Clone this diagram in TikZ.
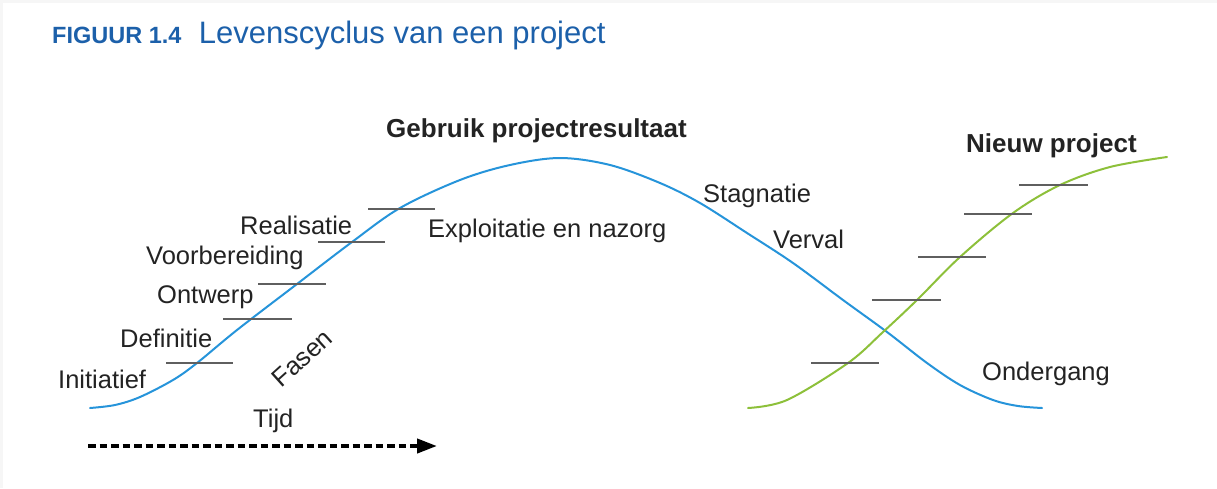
\documentclass[tikz,border=0pt]{standalone}
\usepackage{fontspec}
\setmainfont{Liberation Sans}
\usepackage{tikz}
\usetikzlibrary{arrows.meta, positioning}
\definecolor{titelblauw}{RGB}{28,96,170}
\definecolor{curveblauw}{RGB}{38,148,218}
\definecolor{curvegroen}{RGB}{141,192,58}
\definecolor{tekstgrijs}{RGB}{35,35,35}
\definecolor{streepgrijs}{RGB}{95,95,95}

\begin{document}
\begin{tikzpicture}[x=1pt, y=-1pt,
    label/.style={anchor=base west, inner sep=0pt, text=tekstgrijs, font=\fontsize{25.5}{30}\selectfont},
    kop/.style={label, font=\fontsize{26}{31}\selectfont\bfseries},
    titel/.style={anchor=base west, inner sep=0pt, text=titelblauw},
    fase/.style={draw=streepgrijs, line width=1.2pt},
    curve/.style={line width=2pt, line cap=round},
    tijdpijl/.style={line width=4pt, dash pattern=on 7.5pt off 4pt, -{Triangle[length=20pt, width=14pt]}}
]
    \useasboundingbox (0,0) rectangle (1217,488);
    \fill[gray!7] (0,0) rectangle (1217,3);
    \fill[gray!7] (0,0) rectangle (3,488);

    % titel
    \node[titel, font=\fontsize{23.5}{28}\selectfont\bfseries] (fig) at (52,43) {FIGUUR 1.4};
    \node[titel, font=\fontsize{31}{36}\selectfont] (titeltekst) at ([xshift=17pt]fig.base east) {Levenscyclus van een project};

    % levenscyclus
    \draw[curve, curveblauw] plot[smooth, tension=0.55] coordinates {
        (90,408) (115,405) (140,397) (173,380) (197,363) (237,330) (297,284)
        (352,242) (400,208) (460,180) (510,165) (560,158) (610,165) (660,183)
        (700,203) (747,233) (793,263) (843,300) (887,332) (927,363) (960,385)
        (993,400) (1018,406) (1042,408)};
    \draw[curve, curvegroen] plot[smooth, tension=0.55] coordinates {
        (748,408) (787,400) (848,363) (883,332) (917,300) (960,257)
        (1013,213) (1060,185) (1110,167) (1167,157)};

    % fasestreepjes
    \foreach \xa/\xb/\y in {166/233/363, 223/292/319, 258/326/284, 318/385/242, 368/435/209,
                            811/879/363, 872/941/300, 918/986/257, 964/1032/214, 1019/1088/185}
        \draw[fase] (\xa,\y) -- (\xb,\y);

    % fasen
    \node[label] (initiatief) at (58,388) {Initiatief};
    \node[label] (definitie) at (120,347) {Definitie};
    \node[label] (ontwerp) at (157,303) {Ontwerp};
    \node[label] (voorbereiding) at (146,264) {Voorbereiding};
    \node[label] (realisatie) at (240,234) {Realisatie};
    \node[label, anchor=center, rotate=42] (fasen) at (302,358) {Fasen};
    \node[label] (exploitatie) at (428,237) {Exploitatie en nazorg};
    \node[label] (stagnatie) at (703,202) {Stagnatie};
    \node[label] (verval) at (773,248) {Verval};
    \node[label] (ondergang) at (982,380) {Ondergang};
    \node[kop] (gebruik) at (386,137) {Gebruik projectresultaat};
    \node[kop] (nieuw) at (966,152) {Nieuw project};

    % tijd
    \node[label] (tijd) at (253,427) {Tijd};
    \coordinate (tijdstart) at (88,446);
    \coordinate (tijdeind) at (437,446);
    \draw[tijdpijl] (tijdstart) -- (tijdeind);
\end{tikzpicture}
\end{document}
